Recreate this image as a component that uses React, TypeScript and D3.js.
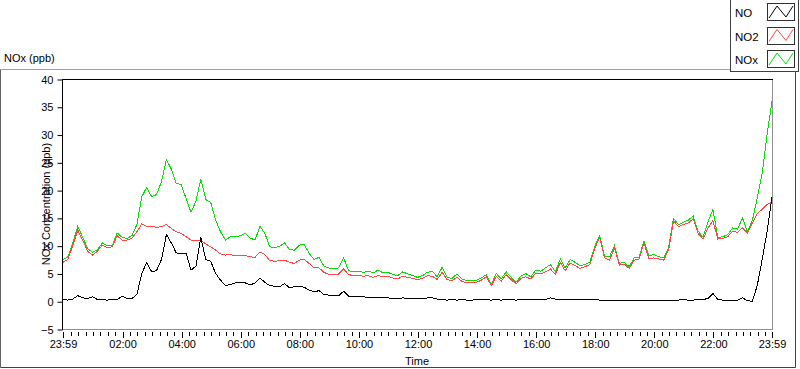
import React, { useEffect, useRef } from 'react';
import * as d3 from 'd3';

// one sample every 10 minutes, starting 23:59 the previous day
const stepMinutes = 10;

const noValues = [
  0.3, 0.2, 0.4, 1.0, 0.6, 0.5, 0.8, 0.3, 0.3, 0.2, 0.3, 0.3, 0.9, 0.5, 0.5,
  1.2, 5.0, 7.0, 5.3, 5.5, 7.5, 12.0, 10.5, 8.7, 8.5, 8.7, 5.6, 6.3, 11.5, 7.5, 7.2, 5.0, 3.8, 2.8, 3.0, 3.3, 3.4,
  3.3, 2.9, 3.3, 4.2, 3.4, 2.8, 2.7, 2.6, 3.2, 2.4, 2.6, 2.7, 2.5, 2.0, 1.7, 1.9, 1.2, 1.1, 1.0, 1.0, 1.8, 0.9,
  0.8, 0.8, 0.8, 0.7, 0.7, 0.7, 0.6, 0.6, 0.5, 0.5, 0.6, 0.5, 0.5, 0.5,
  0.4, 0.6, 0.6, 0.4, 0.3, 0.2, 0.3, 0.2, 0.3, 0.2, 0.2, 0.3, 0.3, 0.3, 0.2, 0.3, 0.2, 0.3, 0.3, 0.2,
  0.3, 0.3, 0.3, 0.3, 0.3, 0.3, 0.6, 0.4, 0.3, 0.4, 0.3, 0.4, 0.3, 0.3, 0.3, 0.3,
  0.2, 0.2, 0.2, 0.2, 0.2, 0.1, 0.1, 0.2, 0.1, 0.2, 0.2, 0.2, 0.1, 0.2, 0.2, 0.2, 0.2, 0.3, 0.2, 0.2,
  0.3, 0.3, 0.5, 1.4, 0.3, 0.2, 0.2, 0.2, 0.2, 0.6, 0.1, 0.0, 2.8, 7.5, 12.5, 18.8,
];

const no2Values = [
  7.0, 7.5, 10.1, 12.8, 11.0, 9.0, 8.3, 9.0, 10.1, 9.6, 9.8, 11.8, 11.0, 11.0, 11.3, 12.5, 13.9, 13.5, 13.5,
  13.3, 13.4, 13.8, 13.1, 12.5, 12.2, 11.6, 11.0, 10.9, 11.0, 10.3, 9.8, 9.2, 8.5, 8.3, 8.4, 8.2, 8.3,
  8.2, 8.0, 7.9, 8.9, 8.4, 7.3, 7.2, 7.3, 7.4, 7.0, 6.8, 7.4, 7.5, 6.8, 6.0, 6.0, 5.2, 4.8, 4.8, 4.9, 5.8,
  4.8, 4.6, 4.7, 4.5, 4.6, 4.3, 4.6, 4.4, 4.5, 4.2, 4.0, 4.5, 4.3, 4.1, 3.9,
  4.1, 4.6, 4.5, 3.9, 5.2, 3.9, 3.7, 4.3, 3.6, 3.3, 3.4, 3.4, 3.8, 4.4, 2.8, 4.5, 3.6, 4.8, 3.9, 3.1,
  4.1, 4.4, 4.0, 5.0, 4.9, 5.3, 5.8, 4.8, 7.0, 5.5, 6.9, 6.4, 5.9, 6.2, 6.6, 9.5,
  11.5, 7.8, 7.4, 9.6, 6.5, 6.7, 5.9, 7.4, 7.6, 10.5, 7.6, 7.8, 7.6, 7.4, 9.2, 14.5, 13.4, 13.8, 14.1, 14.8,
  12.2, 11.2, 13.2, 14.5, 11.2, 11.3, 11.6, 12.6, 12.4, 13.2, 12.3, 14.0, 15.8, 16.5, 17.4, 17.8,
];

const noxValues = [
  7.5, 8.0, 10.5, 13.5, 11.5, 9.5, 8.8, 9.3, 10.5, 10.0, 10.0, 12.3, 11.5, 11.3, 11.8, 13.8, 18.8, 20.5, 18.8,
  19.2, 21.5, 25.5, 23.8, 21.2, 21.0, 18.5, 16.0, 18.0, 22.0, 18.3, 17.8, 14.6, 12.5, 11.0, 11.6, 11.6, 11.8,
  12.2, 11.4, 11.0, 13.5, 12.2, 9.8, 9.6, 9.9, 10.5, 9.3, 9.2, 10.1, 10.2, 8.6, 7.5, 7.9, 6.3, 6.0, 5.8, 6.0, 7.8,
  5.5, 5.3, 5.4, 5.2, 5.4, 5.1, 5.6, 5.1, 5.2, 4.8, 4.6, 5.3, 4.9, 4.6, 4.3,
  4.6, 5.2, 5.4, 4.4, 6.1, 4.3, 4.1, 4.9, 4.0, 3.7, 3.8, 3.8, 4.2, 4.8, 3.0, 5.0, 4.0, 5.3, 4.3, 3.4,
  4.5, 5.0, 4.4, 5.6, 5.4, 6.0, 6.6, 5.3, 7.6, 6.0, 7.5, 7.0, 6.4, 6.6, 7.0, 9.9,
  11.8, 8.1, 8.0, 10.0, 6.8, 7.0, 6.2, 7.8, 7.9, 10.9, 8.2, 8.4, 8.0, 7.8, 9.6, 14.9, 13.8, 14.2, 14.6, 15.3,
  12.6, 11.5, 14.3, 16.5, 11.5, 11.6, 12.0, 13.2, 13.0, 15.0, 12.5, 14.5, 18.5, 23.0, 30.0, 36.0,
];

const timeLabels = ['23:59', '02:00', '04:00', '06:00', '08:00', '10:00', '12:00', '14:00', '16:00', '18:00', '20:00', '22:00', '23:59'];
const yTicks = [-5, 0, 5, 10, 15, 20, 25, 30, 35, 40];

const seriesList = [
  { name: 'NOx', values: noxValues, color: '#00e000' },
  { name: 'NO2', values: no2Values, color: '#ff4545' },
  { name: 'NO', values: noValues, color: '#000000' },
];
const legendItems = [
  { name: 'NO', color: '#000000' },
  { name: 'NO2', color: '#ff4545' },
  { name: 'NOx', color: '#00e000' },
];

const W = 800;
const H = 369;
const FONT = '"Liberation Sans", Arial, sans-serif';

export default function App() {
  const ref = useRef<SVGSVGElement>(null);

  useEffect(() => {
    const svg = d3.select(ref.current);
    svg.selectAll('*').remove();

    const plot = { left: 62, top: 79, right: 772, bottom: 329 };

    // outer panel
    svg.append('line').attr('x1', 0.5).attr('x2', 730).attr('y1', 69.5).attr('y2', 69.5).attr('stroke', '#a0a0a0');
    svg.append('line').attr('x1', 0.5).attr('x2', 0.5).attr('y1', 69.5).attr('y2', 367.5).attr('stroke', '#606060');
    svg.append('line').attr('x1', 0.5).attr('x2', 795.5).attr('y1', 367.5).attr('y2', 367.5).attr('stroke', '#404040');
    svg.append('line').attr('x1', 795.5).attr('x2', 795.5).attr('y1', 72).attr('y2', 367.5).attr('stroke', '#404040');

    // title
    svg.append('text')
      .attr('x', 4).attr('y', 62)
      .style('font-family', FONT).style('font-size', '11px')
      .text('NOx (ppb)');

    const x = d3.scaleLinear().domain([0, 1440]).range([plot.left + 1, plot.right]);
    const y = d3.scaleLinear().domain([-5, 40]).range([plot.bottom, plot.top]);

    // plot background and frame
    svg.append('rect')
      .attr('x', plot.left).attr('y', plot.top)
      .attr('width', plot.right - plot.left).attr('height', plot.bottom - plot.top)
      .attr('fill', '#fff');
    svg.append('line').attr('x1', plot.right + 0.5).attr('x2', plot.right + 0.5).attr('y1', plot.top).attr('y2', plot.bottom + 0.5).attr('stroke', '#909090');
    svg.append('line').attr('x1', plot.left).attr('x2', plot.right + 1).attr('y1', plot.bottom + 0.5).attr('y2', plot.bottom + 0.5).attr('stroke', '#909090');

    // lines
    const g = svg.append('g');
    seriesList.forEach(s => {
      const line = d3.line<number>()
        .x((d, i) => x(i * stepMinutes))
        .y(d => y(d));
      g.append('path')
        .datum(s.values)
        .attr('fill', 'none')
        .attr('stroke', s.color)
        .attr('stroke-width', 1)
        .attr('shape-rendering', 'crispEdges')
        .attr('d', line);
    });

    svg.append('line').attr('x1', plot.left + 0.5).attr('x2', plot.left + 0.5).attr('y1', plot.top).attr('y2', plot.bottom + 1).attr('stroke', '#000');
    svg.append('line').attr('x1', plot.left).attr('x2', plot.right + 1).attr('y1', plot.top + 0.5).attr('y2', plot.top + 0.5).attr('stroke', '#000');

    // y axis
    const yAxis = svg.append('g')
      .attr('transform', `translate(${plot.left + 0.5},0.5)`)
      .call(d3.axisLeft(y).tickValues(yTicks).tickSize(5).tickPadding(4));
    yAxis.select('.domain').remove();
    yAxis.selectAll('text').style('font-family', FONT).style('font-size', '11px').attr('fill', '#000');

    svg.append('text')
      .attr('transform', `translate(50,${(plot.top + plot.bottom) / 2}) rotate(-90)`)
      .attr('text-anchor', 'middle')
      .style('font-family', FONT).style('font-size', '11px')
      .text('NOx Concentration (ppb)');

    // x axis: major ticks every 2 h, minor every 15 min
    const majorTicks = timeLabels.map((_, i) => (i === 0 ? 0 : i === timeLabels.length - 1 ? 1440 : i * 120 + 1));
    const minorTicks = d3.range(1, 1440, 15).filter(m => !majorTicks.includes(m) && m > 5 && m < 1436);
    const xg = svg.append('g').attr('transform', `translate(0.5,${plot.bottom + 3})`);
    xg.selectAll('line.minor').data(minorTicks).enter().append('line')
      .attr('x1', d => Math.round(x(d))).attr('x2', d => Math.round(x(d)))
      .attr('y1', 0).attr('y2', 4).attr('stroke', '#000');
    xg.selectAll('line.major').data(majorTicks).enter().append('line')
      .attr('x1', d => Math.round(x(d))).attr('x2', d => Math.round(x(d)))
      .attr('y1', 0).attr('y2', 6).attr('stroke', '#000');
    xg.selectAll('text').data(majorTicks).enter().append('text')
      .attr('x', d => x(d)).attr('y', 16)
      .attr('text-anchor', 'middle')
      .style('font-family', FONT).style('font-size', '11px')
      .text((d, i) => timeLabels[i]);

    svg.append('text')
      .attr('x', (plot.left + plot.right) / 2).attr('y', 365)
      .attr('text-anchor', 'middle')
      .style('font-family', FONT).style('font-size', '11px')
      .text('Time');

    // legend
    const lg = svg.append('g');
    lg.append('rect').attr('x', 730.5).attr('y', -1).attr('width', 68).attr('height', 72.5)
      .attr('fill', '#fff').attr('stroke', '#404040');
    legendItems.forEach((item, i) => {
      const top = 3 + i * 23.5;
      lg.append('text')
        .attr('x', 735).attr('y', top + 14)
        .style('font-family', FONT).style('font-size', '11.5px')
        .text(item.name);
      lg.append('rect')
        .attr('x', 767.5).attr('y', Math.round(top) + 0.5).attr('width', 27).attr('height', 17)
        .attr('fill', '#fff').attr('stroke', '#303030');
      const zig: [number, number][] = [[769, top + 15], [777, top + 3], [786, top + 14], [793, top + 3]];
      lg.append('path')
        .attr('d', d3.line()(zig))
        .attr('fill', 'none').attr('stroke', item.color).attr('stroke-width', 1);
    });
  }, []);

  return (
    <div style={{ position: 'absolute', left: 0, top: 0 }}>
      <svg ref={ref} width={W} height={H} style={{ display: 'block', background: '#fff' }} />
    </div>
  );
}
